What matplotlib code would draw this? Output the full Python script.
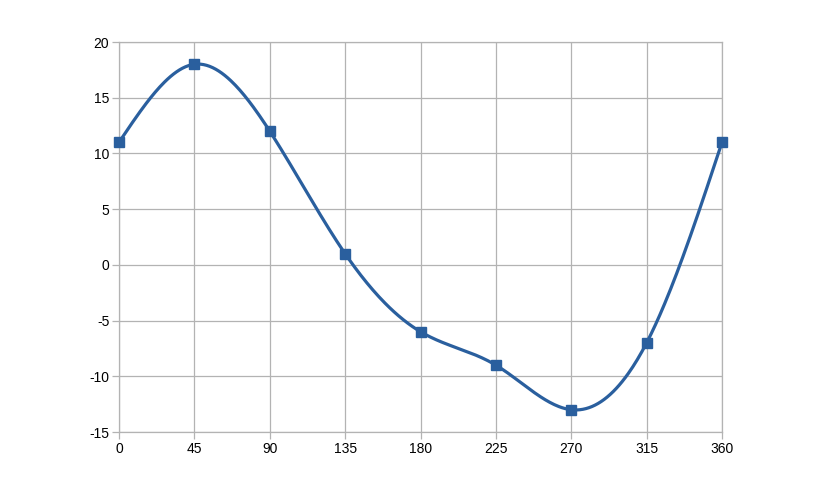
import matplotlib
matplotlib.use("Agg")
import matplotlib.pyplot as plt
import numpy as np

plt.rcParams['font.family'] = ['Liberation Sans', 'DejaVu Sans']
plt.rcParams['axes.unicode_minus'] = False

# data
angles = [0, 45, 90, 135, 180, 225, 270, 315, 360]
values = [11, 18, 12, 1, -6, -9, -13, -7, 11]
xticks = [0, 45, 90, 135, 180, 225, 270, 315, 360]
yticks = [-15, -10, -5, 0, 5, 10, 15, 20]


# natural cubic spline, like the smooth line in the office chart
def spline(x, y, n=400):
    x = np.asarray(x, float)
    y = np.asarray(y, float)
    k = len(x)
    h = np.diff(x)
    A = np.zeros((k, k))
    b = np.zeros(k)
    A[0, 0] = 1
    A[-1, -1] = 1
    for i in range(1, k - 1):
        A[i, i - 1] = h[i - 1]
        A[i, i] = 2 * (h[i - 1] + h[i])
        A[i, i + 1] = h[i]
        b[i] = 6 * ((y[i + 1] - y[i]) / h[i] - (y[i] - y[i - 1]) / h[i - 1])
    M = np.linalg.solve(A, b)
    xs = np.linspace(x[0], x[-1], n)
    ys = np.zeros_like(xs)
    for j, t in enumerate(xs):
        i = min(np.searchsorted(x, t, side='right') - 1, k - 2)
        dx1 = x[i + 1] - t
        dx0 = t - x[i]
        ys[j] = (M[i] * dx1**3 / (6 * h[i]) + M[i + 1] * dx0**3 / (6 * h[i])
                 + (y[i] / h[i] - M[i] * h[i] / 6) * dx1
                 + (y[i + 1] / h[i] - M[i + 1] * h[i] / 6) * dx0)
    return xs, ys


fig = plt.figure(figsize=(8.26, 5), dpi=100)
ax = fig.add_axes([119 / 826, 68 / 500, 603 / 826, 390 / 500])

color = '#2a5f9e'
xs, ys = spline(angles, values)
ax.plot(xs, ys, color=color, lw=2.3, zorder=3)
ax.plot(angles, values, 's', color=color, ms=7.2, zorder=4,
        linestyle='none', clip_on=False)

ax.set_xlim(0, 360)
ax.set_ylim(-15, 20)
ax.set_xticks(xticks)
ax.set_yticks(yticks)
ax.grid(True, color='#b3b3b3', lw=0.9)
ax.set_axisbelow(True)
for s in ax.spines.values():
    s.set_color('#b3b3b3')
    s.set_linewidth(0.9)
ax.tick_params(direction='out', length=5, width=0.9, color='#b3b3b3',
               labelsize=10, labelcolor='#000000', pad=2)

fig.savefig('out.png', dpi=100)
